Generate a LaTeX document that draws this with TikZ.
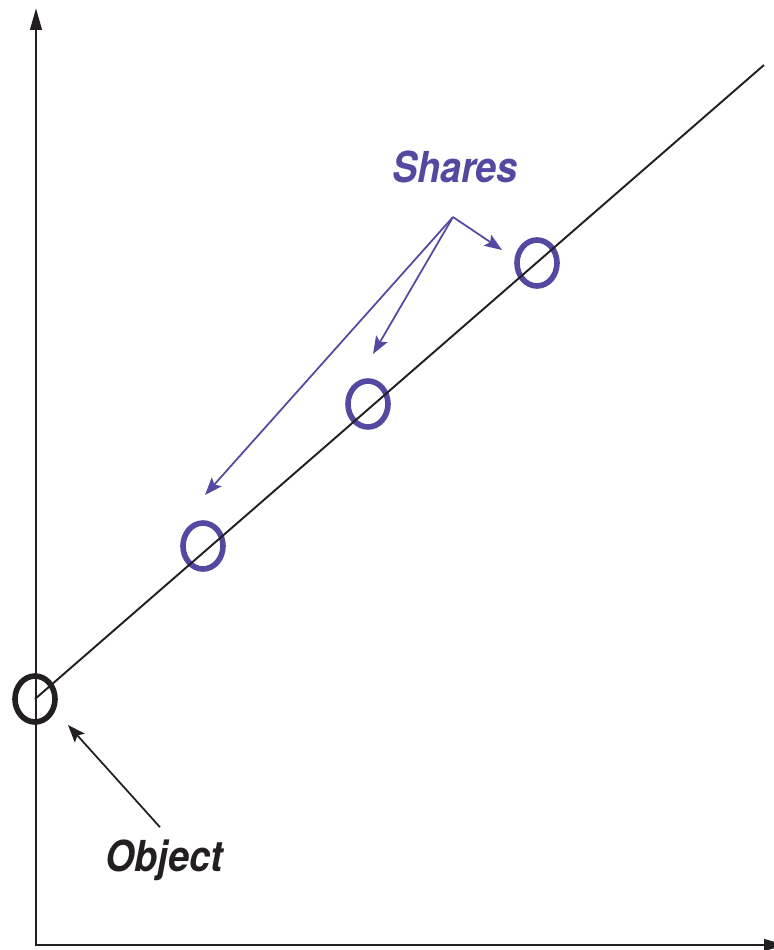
\documentclass[tikz,border=0pt]{standalone}
\usepackage{graphicx}
\usepackage{fontspec}
\setsansfont{TeX Gyre Heros}
\usepackage{tikz}
\usetikzlibrary{positioning,arrows.meta,shapes.geometric}
\definecolor{shareblue}{RGB}{83,73,160}
\definecolor{inkblack}{RGB}{35,31,32}

\begin{document}
\begin{tikzpicture}[
  x=0.02cm, y=-0.02cm,
  axis/.style={line width=1.6pt, draw=inkblack, {Triangle[length=12.5pt,width=6.5pt]}-{Triangle[length=12.5pt,width=6.5pt]}},
  ring/.style={draw, ellipse, line width=3.2pt, minimum width=0.8cm, minimum height=0.92cm, inner sep=0pt},
  pointer/.style={line width=1pt, -{Stealth[length=10pt,width=7.5pt,inset=2pt]}},
  lbl/.style={font=\sffamily\bfseries\itshape\fontsize{21.5}{24}\selectfont, inner sep=0pt},
  >=Stealth
]
  \useasboundingbox (0,0) rectangle (774,950);
  \clip (0,0) rectangle (774,950);

  % Axes
  \coordinate (origin) at (36,945);
  \coordinate (ytop) at (36,8);
  \coordinate (xend) at (786,945);
  \draw[axis] (ytop) -- (origin) -- (xend);

  % Object and shares on the line
  \node[ring, draw=inkblack] (obj) at (35,699) {};
  \node[ring, draw=shareblue] (s1) at (203,546) {};
  \node[ring, draw=shareblue] (s2) at (368,404) {};
  \node[ring, draw=shareblue] (s3) at (537,263) {};
  \coordinate (lineend) at (764,65);
  \draw[line width=1.1pt, inkblack] (obj.center) -- (lineend);

  % Shares label
  \node[lbl, text=shareblue] (shares) at (455,167) {\scalebox{1}[1.13]{Shares}};
  \coordinate (fork) at (453,217);
  \coordinate (t1) at (205,495);
  \coordinate (t2) at (373,354);
  \coordinate (t3) at (502,250);
  \foreach \t in {t1,t2,t3} {
    \draw[pointer, shareblue] (fork) -- (\t);
  }

  % Object label
  \node[lbl, text=inkblack] (objlbl) at (164,860) {\scalebox{1}[1.13]{Object}};
  \coordinate (objtip) at (68,725);
  \draw[pointer, inkblack] ([shift={(-4,-12)}]objlbl.north) -- (objtip);
\end{tikzpicture}
\end{document}
